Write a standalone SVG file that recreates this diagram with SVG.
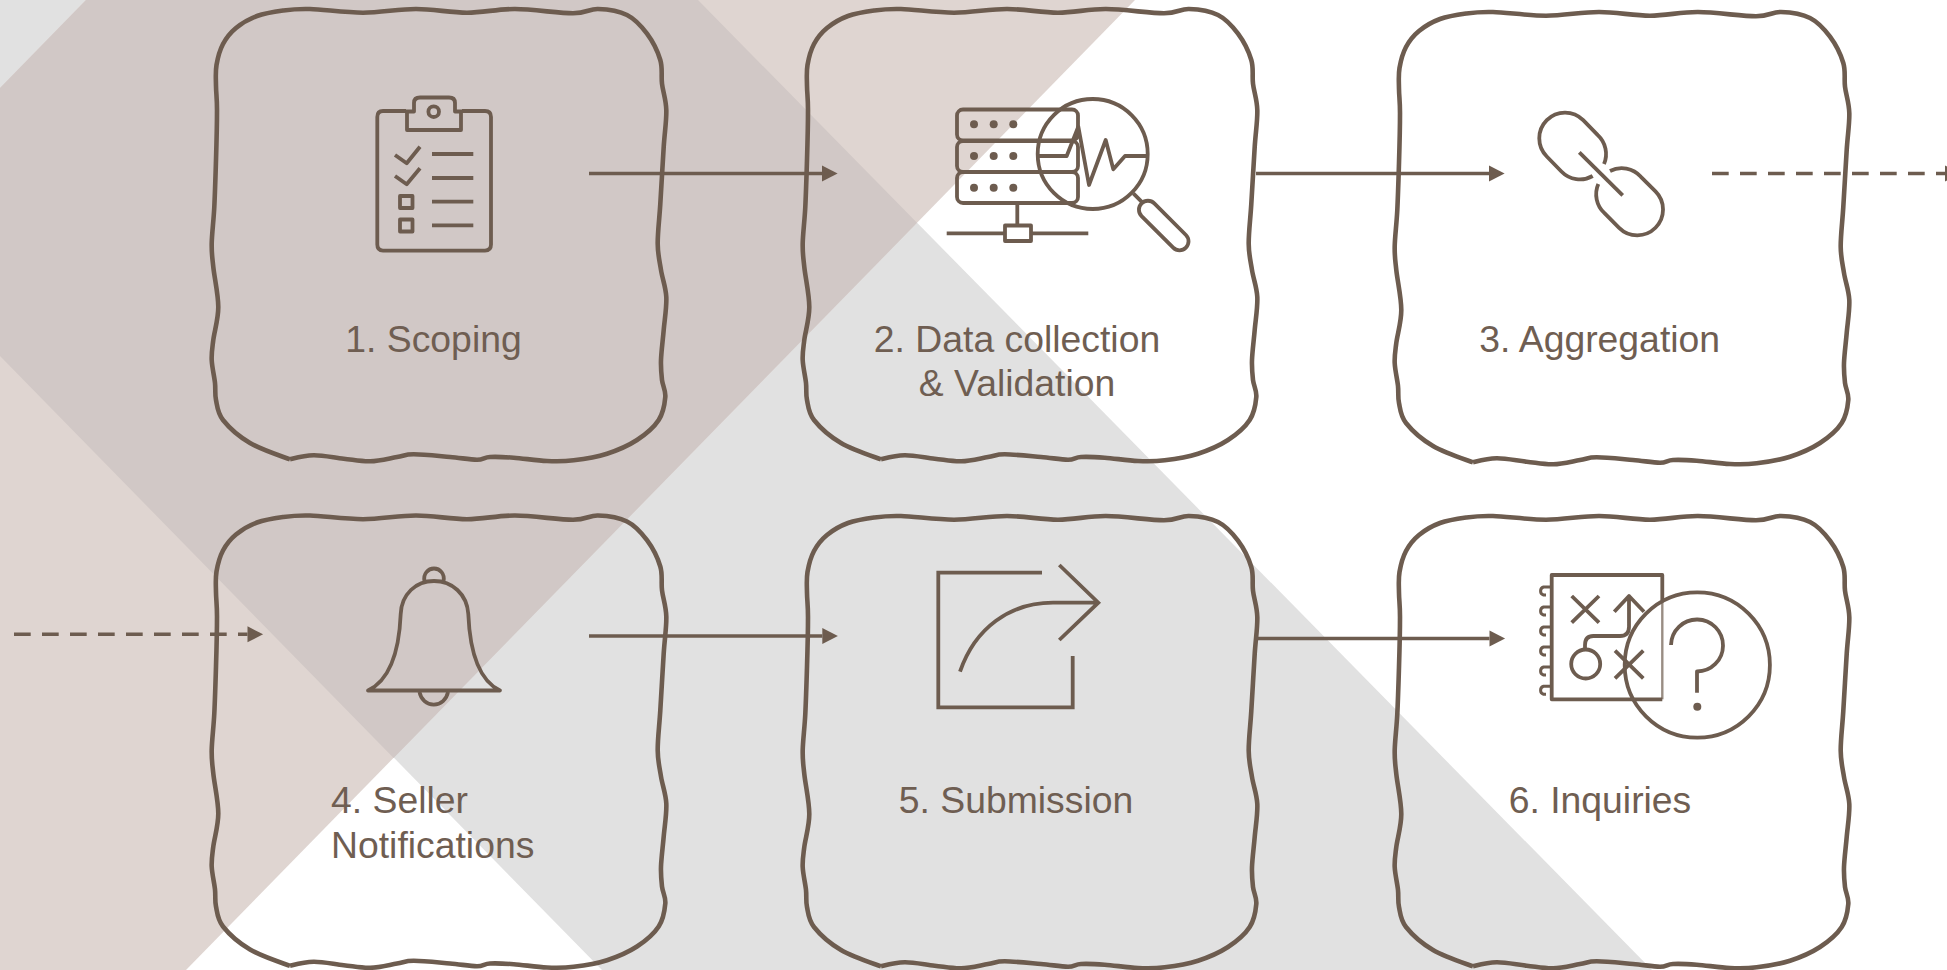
<svg xmlns="http://www.w3.org/2000/svg" width="1947" height="970" viewBox="0 0 1947 970">
<style>
.blob{fill:none;stroke:#6d5c4f;stroke-width:4.6;stroke-linejoin:round}
.ic{fill:none;stroke:#6d5c4f;stroke-width:3.8;stroke-linejoin:round}
.dot{fill:#6d5c4f;stroke:none}
.lbl{font-family:"Liberation Sans",Arial,sans-serif;font-size:37.33px;fill:#6f5e52;text-anchor:middle}
.lf{text-anchor:start}
.cn{fill:none;stroke:#6d5c4f;stroke-width:3.6}
.ds{stroke-dasharray:16.7 11.3}
</style>
<defs>
<marker id="ah" markerUnits="userSpaceOnUse" markerWidth="16" markerHeight="18" refX="0" refY="8.5" orient="auto" overflow="visible"><path d="M0,0.5 L15.6,8.5 L0,16.5 Z" fill="#6d5c4f"/></marker>
<path id="blob" class="blob" d="M290,459.3 C278,455 261.2,449.6 250,443 S228.7,427.2 223,420 S217.3,406.2 216,400 S215.7,389.7 215,383 S212,367.2 211.7,360 S212.2,348.8 213.3,340 S218.3,319.2 218.3,307 S214.4,277.6 213.3,267 S211.5,253.5 211.7,243.5 S213.6,220.9 214.3,207 S215.5,176.2 216,160 S217,122.3 217,110 S216.1,93.5 216,86 S215.3,72 216.5,65 S219.7,50.2 223,44 S230.3,32.7 236,28 S249.2,18.9 257,16 S274.2,11.7 283,10.5 S296.7,8.6 310,9 S345.3,12.7 363,12.7 S398.7,9 416,9 S450.5,12.7 467,12.7 S497.3,8.9 515,9 S559.2,13.3 573,13.3 S589,8.7 598,9 S618.8,10.9 627,15 S641.4,26.2 647,33.7 S657.8,51.7 660.3,60 S661,75.4 662,83.7 S666,99.4 666.3,110 S664.7,131.3 663.7,147 S661.3,187.9 660.3,204 S657.6,232.7 657.7,243.7 S659.6,261.1 661,270 S665.8,287 666.3,297 S664.6,319.5 663.7,330 S661.3,351.7 661,360 S661.3,373.8 662,380 S665.9,390.3 665.3,397 S663.4,412.8 658.7,420 S645.6,434.4 637,440 S617.6,450.3 607,453.7 S583.7,459.1 573.7,460.3 S557,461.4 547,461 S523.2,458.4 513.7,457.7 S496.1,456.7 490,457 S483.7,459.7 477,459.7 S460.6,457.9 450,457 S422.5,454.3 413.7,454.3 S404.2,455.8 397,457 S379.2,461 370.3,461.3 S353.1,459.7 343.7,458.7 S322.7,455.2 313.7,455.3 S301,456.5 290,459.3"/>
<path id="hook" class="ic" style="stroke-width:3" d="M1551,-3 H1543.5 A4.2,4.2 0 0 0 1543.5,5 H1546"/>
</defs>

<g id="background">
<rect width="1947" height="970" fill="#ffffff"/>
<polygon points="698,0 1652,970 602,970 0,356 0,0" fill="#e1e1e1"/>
<polygon points="86,0 1135,0 186,970 0,970 0,88" fill="#dfd5d1"/>
<polygon points="86,0 698,0 917,222.800 393.600,758 0,356 0,88" fill="#d1c8c6"/>
</g>

<g id="connectors">
<path class="cn" marker-end="url(#ah)" d="M589,173.500 H822"/>
<path class="cn" marker-end="url(#ah)" d="M1256,173.500 H1489"/>
<path class="cn ds" marker-end="url(#ah)" d="M1712,173.500 H1945"/>
<path class="cn ds" marker-end="url(#ah)" d="M14,634.300 H247.500"/>
<path class="cn" marker-end="url(#ah)" d="M589,636 H822.300"/>
<path class="cn" marker-end="url(#ah)" d="M1258,638.500 H1489.500"/>
</g>

<g id="node-1">
<use href="#blob"/>
<path class="ic" d="M406,111 H383 Q377.300,111 377.300,117 V244.600 Q377.300,250.600 383,250.600 H485 Q491,250.600 491,244.600 V117 Q491,111 485,111 H462"/>
<path class="ic" d="M407,111 V130 H461 V111"/>
<path class="ic" d="M406,111.500 H414 V103 Q414,97.500 420,97.500 H449 Q455,97.500 455,103 V111.500 H462"/>
<circle class="ic" cx="433.700" cy="111.700" r="5.300"/>
<path class="ic" d="M395,155 L406.700,163.300 L420,146.700 M395,176 L406.700,184.300 L420,168.300 M432,154 H473.300 M432,178 H473.300 M432,201.700 H473.300 M432,225.300 H473.300"/>
<rect class="ic" x="400" y="196" width="12.500" height="12"/>
<rect class="ic" x="400" y="219.500" width="12.500" height="12"/>
<text class="lbl" x="433.500" y="352">1. Scoping</text>
</g>

<g id="node-2">
<use href="#blob" x="591"/>
<rect class="ic" x="957" y="109.500" width="121" height="31" rx="6"/>
<rect class="ic" x="957" y="141" width="121" height="31" rx="6"/>
<rect class="ic" x="957" y="172" width="121" height="31" rx="6"/>
<circle class="dot" cx="974" cy="124.300" r="4"/><circle class="dot" cx="993.700" cy="124.300" r="4"/><circle class="dot" cx="1013.300" cy="124.300" r="4"/>
<circle class="dot" cx="974" cy="156" r="4"/><circle class="dot" cx="993.700" cy="156" r="4"/><circle class="dot" cx="1013.300" cy="156" r="4"/>
<circle class="dot" cx="974" cy="187.700" r="4"/><circle class="dot" cx="993.700" cy="187.700" r="4"/><circle class="dot" cx="1013.300" cy="187.700" r="4"/>
<path class="ic" d="M1017.300,204 V225 M946.700,233.300 H1005 M1031,233.300 H1088.300"/>
<rect class="ic" x="1005" y="225.500" width="26" height="15.500"/>
<circle class="ic" cx="1092.700" cy="154" r="55"/>
<path class="ic" d="M1038.300,156 H1066.700 L1078.300,126.700 L1089,185 L1105.700,140 L1113.300,169.300 L1125,156 H1146.700"/>
<path class="ic" d="M1133.300,193.300 L1143.300,203.300"/>
<rect class="ic" x="-31.300" y="-9" width="62.700" height="18" rx="9" transform="translate(1163.700,225.500) rotate(45)"/>
<text class="lbl" x="1017" y="352">2. Data collection</text>
<text class="lbl" x="1017" y="396">&amp; Validation</text>
</g>

<g id="node-3">
<use href="#blob" x="1183" y="3"/>
<path class="ic" d="M1604,164 A25.700,25.700 0 0 0 1597.800,135.100 L1583.200,120.100 A25.700,25.700 0 0 0 1546.800,156.500 L1561.400,171.500 A25.700,25.700 0 0 0 1592.700,176"/>
<path class="ic" d="M1610,171 A25.700,25.700 0 0 1 1640.900,176.800 L1655.500,191.400 A25.700,25.700 0 0 1 1619.100,227.800 L1604.500,213.200 A25.700,25.700 0 0 1 1598.300,184"/>
<path class="ic" d="M1579.300,152.300 L1622.700,195.300"/>
<text class="lbl" x="1599.700" y="352">3. Aggregation</text>
</g>

<g id="node-4">
<use href="#blob" y="506.500"/>
<path class="ic" d="M368,690.500 C388,681 399,655 400.700,614 C401.500,594 416,581 434,581 C452,581 467,594 468.300,614 C470,655 480,681 500,690.500 Z"/>
<path class="ic" d="M424.500,581 C423,574 428,568.500 434,568.500 C440,568.500 445,574 443.500,581 M419.500,692 A14.500,15.500 0 0 0 448,692"/>
<text class="lbl lf" x="331" y="813.300">4. Seller</text>
<text class="lbl lf" x="331" y="858.300">Notifications</text>
</g>

<g id="node-5">
<use href="#blob" x="591" y="507"/>
<path class="ic" style="stroke-linejoin:miter" d="M1042,572.700 H938.300 V707.300 H1072.700 V656 M1059.300,565 L1098.300,602.700 L1059.300,640 M960,671.700 C975,628 1010,602.700 1053,602.700 H1097"/>
<text class="lbl" x="1016" y="813">5. Submission</text>
</g>

<g id="node-6">
<use href="#blob" x="1183" y="507"/>
<path class="ic" d="M1662.300,600 V575 H1551.700 V699.300 H1662.300"/>
<path class="ic" style="stroke-width:2.400;opacity:.7" d="M1662.300,600 V699.300"/>
<use href="#hook" y="590"/><use href="#hook" y="610"/><use href="#hook" y="630"/><use href="#hook" y="650"/><use href="#hook" y="670"/><use href="#hook" y="689.300"/>
<path class="ic" d="M1571.700,596 L1599,622.700 M1599,596 L1571.700,622.700 M1614.300,611.700 L1629,596 L1644,611.700 M1629,596 V626.700 Q1629,636 1620,636 H1593.300 Q1585,636 1585,645 V649 M1615,650.700 L1643.300,678.300 M1643.300,650.700 L1615,678.300"/>
<circle class="ic" cx="1585.700" cy="664" r="14.500"/>
<circle class="ic" cx="1697.300" cy="665" r="72.600"/>
<path class="ic" d="M1671,645 A26,26 0 1 1 1697,671.500 V692.700"/>
<circle class="dot" cx="1697.300" cy="706.700" r="4"/>
<text class="lbl" x="1600" y="813">6. Inquiries</text>
</g>
</svg>
